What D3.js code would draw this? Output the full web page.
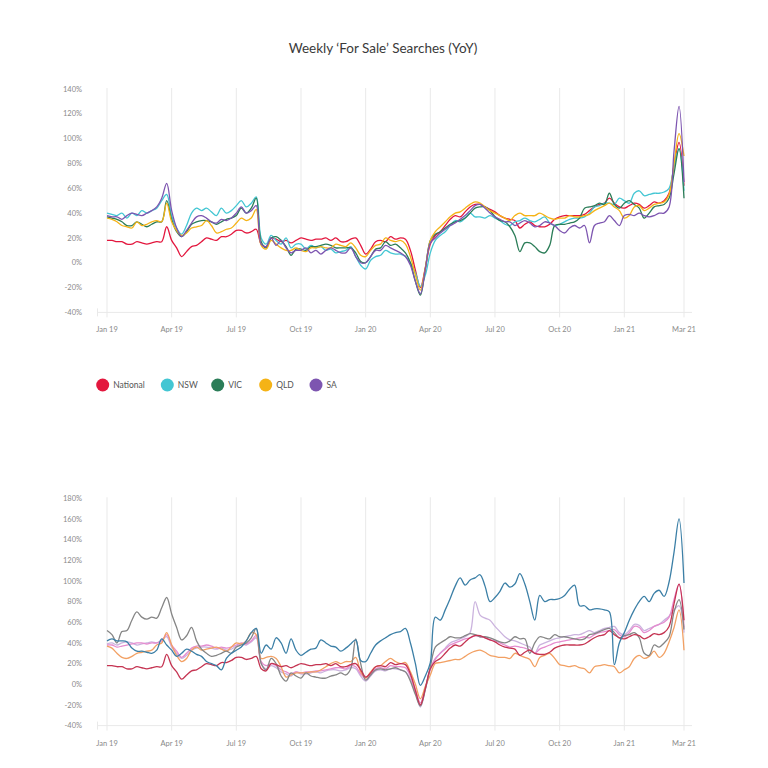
<!DOCTYPE html>
<html>
<head>
<meta charset="utf-8">
<script src="https://cdn.jsdelivr.net/npm/d3@7"></script>
<style>
  html, body { margin: 0; padding: 0; background: #fff; }
  svg { display: block; font-family: Lato, "Open Sans", sans-serif; }
</style>
</head>
<body>
<svg id="chart" width="768" height="768"></svg>
<script>
// ---------- DATA ----------
const title = "Weekly \u2018For Sale\u2019 Searches (YoY)";
const tickWeeks  = [0, 13, 26, 39, 52, 65, 78, 91, 104, 116];
const tickLabels = ["Jan 19","Apr 19","Jul 19","Oct 19","Jan 20","Apr 20","Jul 20","Oct 20","Jan 21","Mar 21"];
const topYTicks = [-40,-20,0,20,40,60,80,100,120,140];
const botYTicks = [-40,-20,0,20,40,60,80,100,120,140,160,180];

// weekly YoY % values, Jan 2019 .. Mar 2021 (117 weeks)
const national = [
 18,18,17,17,15,15,17,16,15,16,
 17,17,29,18,12,5,9,13,14,17,
 20,19,18,21,21,23,26,26,24,25,
 27,15,13,20,19,17,18,16,18,20,
 19,18,19,19,20,18,20,17,17,19,
 20,14,7,11,17,18,17,21,19,20,
 19,10,-6,-20,-4,15,22,25,30,35,
 38,37,41,45,47,47,45,43,41,38,
 36,35,34,28,31,33,30,29,29,31,
 35,37,38,38,38,38,39,42,45,47,
 48,52,48,45,44,46,48,47,44,46,
 49,48,50,56,78,97,62];
const nsw = [
 40,39,38,40,36,40,38,42,40,42,
 44,50,55,38,28,23,30,40,44,42,
 44,41,38,44,40,42,46,50,45,48,
 53,20,15,22,18,15,20,12,15,15,
 11,14,12,13,10,11,8,9,10,13,
 5,-2,-5,2,5,6,10,8,7,7,
 5,0,-8,-19,-10,8,18,22,25,30,
 34,33,36,40,37,37,36,38,36,34,
 31,30,33,34,36,34,33,35,37,32,
 30,31,33,35,36,36,37,40,45,46,
 48,48,47,52,50,48,56,58,54,55,
 56,56,57,60,78,92,58];
const vic = [
 37,36,35,33,30,30,33,31,29,31,
 33,33,50,35,25,21,25,31,33,34,
 34,33,31,33,35,36,38,44,40,44,
 52,17,12,20,21,18,13,6,11,11,
 10,13,13,14,15,14,12,12,12,12,
 8,1,0,5,11,12,17,14,15,12,
 8,0,-15,-26,-5,18,23,25,28,31,
 33,34,36,40,44,45,45,42,37,34,
 33,29,22,9,16,16,13,9,8,14,
 30,31,31,32,33,36,44,45,46,48,
 47,56,47,44,48,50,47,44,36,40,
 45,46,47,52,72,92,52];
const qld = [
 36,35,33,30,29,28,33,30,31,33,
 34,33,48,33,26,22,24,28,29,30,
 34,30,24,25,27,28,32,36,34,36,
 43,14,11,18,15,12,10,10,12,10,
 9,12,12,13,12,12,15,14,13,16,
 12,6,5,10,14,15,20,18,17,18,
 15,5,-10,-22,-4,18,25,29,33,37,
 40,41,44,47,49,48,45,42,40,38,
 36,34,38,40,38,38,38,40,38,36,
 35,36,36,38,37,37,38,39,42,44,
 46,48,45,42,36,38,45,46,42,44,
 47,48,49,55,80,104,86];
const sa = [
 38,37,37,35,38,40,39,38,40,42,
 45,52,64,42,28,21,26,32,37,38,
 36,33,32,35,34,36,40,45,40,42,
 46,15,13,20,14,18,12,8,10,10,
 12,8,10,7,10,12,10,8,8,12,
 5,0,0,5,10,10,14,12,10,8,
 5,-2,-15,-25,-5,16,20,24,27,30,
 32,35,38,42,46,47,44,40,37,35,
 33,33,30,32,34,32,29,30,33,32,
 30,26,24,28,30,28,30,16,30,32,
 33,38,34,30,38,39,38,40,38,37,
 38,40,40,45,90,126,65];

// second chart series
const seriesBlue = [
 42,44,42,42,41,35,32,32,31,30,
 33,44,38,33,27,30,34,32,29,27,
 22,20,18,14,25,30,33,36,42,50,
 54,30,38,34,45,40,30,44,33,28,
 31,34,35,43,40,37,36,32,35,39,
 43,23,22,30,38,42,45,48,50,51,
 54,40,20,-1,8,21,65,62,72,83,
 95,103,96,101,103,106,95,80,84,90,
 98,94,97,107,97,80,62,86,80,82,
 82,83,86,92,96,76,76,72,73,73,
 72,70,19,40,50,62,72,80,85,80,
 88,91,85,99,128,160,98];
const seriesGray = [
 52,48,40,51,52,62,70,65,63,65,
 64,74,84,68,55,43,47,55,42,34,
 30,27,28,30,32,30,36,38,40,45,
 54,20,14,25,20,8,3,11,8,6,
 11,8,7,6,6,8,9,11,9,15,
 44,20,4,9,14,15,14,15,16,14,
 12,3,-10,-21,-5,17,36,40,43,46,
 45,45,47,49,48,46,46,45,43,41,
 40,42,46,44,44,30,40,46,45,44,
 48,46,46,45,44,43,44,48,49,51,
 53,54,50,45,47,48,50,45,30,28,
 38,36,40,46,70,82,53];
const seriesOrange = [
 37,35,30,26,25,27,30,31,32,33,
 38,40,50,38,28,22,25,33,36,33,
 34,35,36,34,32,36,40,39,42,50,
 48,25,26,27,25,17,7,9,11,11,
 11,12,12,14,17,20,22,20,22,22,
 26,12,6,12,17,18,22,25,22,20,
 21,12,0,-14,-2,9,20,21,22,23,
 24,24,27,30,32,33,31,28,27,26,
 26,25,30,28,26,24,17,26,28,30,
 25,19,18,17,18,16,15,11,17,18,
 19,18,17,11,14,17,25,28,25,27,
 32,26,30,41,55,72,33];
const seriesPink = [
 38,38,36,37,38,39,40,40,39,40,
 40,42,48,38,32,26,30,35,37,37,
 38,37,35,36,35,36,38,40,39,42,
 47,22,18,20,18,14,12,10,12,11,
 12,12,13,13,14,15,16,16,15,18,
 17,10,6,10,15,16,15,18,17,17,
 16,8,-5,-18,-3,15,25,30,34,38,
 40,42,44,45,47,46,45,43,42,40,
 38,36,37,36,35,33,30,34,36,38,
 40,41,42,43,44,45,46,45,48,50,
 51,52,53,48,46,50,56,55,50,52,
 56,58,60,65,82,97,55];
const seriesLavender = [
 39,40,38,40,41,40,38,39,40,41,
 40,43,46,36,30,25,28,33,35,36,
 36,35,34,35,33,34,37,39,38,41,
 45,20,15,18,16,12,10,8,12,10,
 10,11,12,11,13,14,14,13,14,16,
 15,8,3,8,13,14,13,15,15,14,
 12,5,-8,-22,-5,14,24,30,35,40,
 42,44,46,50,80,67,64,62,56,51,
 46,43,42,40,38,36,30,38,40,42,
 44,45,46,47,48,48,50,52,50,52,
 54,55,56,50,48,52,58,57,52,54,
 56,58,62,66,72,76,50];

const topNames  = ["National","NSW","VIC","QLD","SA"];
const topColors = ["#e3173e","#43c6d3","#2b7d58","#f5b316","#7d55b0"];
const topValues = [national, nsw, vic, qld, sa];

const botColors = ["#cbb3de","#e58ccf","#f2a063","#858585","#c53452","#3b7fa6"];
const botValues = [seriesLavender, seriesPink, seriesOrange, seriesGray, national, seriesBlue];

// ---------- DRAW ----------
const svg = d3.select("#chart");
const nWeeks = national.length;
const x = d3.scaleLinear().domain([0, nWeeks - 1]).range([107, 684]);

function drawPanel(g, y, yTicks, series, colors, top, bottom) {
  // vertical gridlines
  g.selectAll(".vgrid").data(tickWeeks).join("line")
    .attr("x1", d => x(d)).attr("x2", d => x(d))
    .attr("y1", top - 1).attr("y2", bottom + 5)
    .attr("stroke", "#e9e9e9").attr("stroke-width", 1);
  // baseline
  g.append("line")
    .attr("x1", 97).attr("x2", 692)
    .attr("y1", bottom).attr("y2", bottom)
    .attr("stroke", "#e9e9e9").attr("stroke-width", 1);
  g.append("line")
    .attr("x1", 97.5).attr("x2", 97.5)
    .attr("y1", bottom - 4).attr("y2", bottom + 4)
    .attr("stroke", "#e9e9e9").attr("stroke-width", 1);
  // y labels
  g.selectAll(".ylab").data(yTicks).join("text")
    .attr("x", 82).attr("y", d => y(d)).attr("dy", "0.35em")
    .attr("text-anchor", "end").attr("font-size", 7.5).attr("fill", "#8a8a8a")
    .text(d => d + "%");
  // x labels
  g.selectAll(".xlab").data(tickWeeks).join("text")
    .attr("x", d => x(d)).attr("y", bottom + 20)
    .attr("text-anchor", "middle").attr("font-size", 7.5).attr("fill", "#8a8a8a")
    .text((d, i) => tickLabels[i]);
  // lines
  const line = d3.line()
    .x((d, i) => x(i)).y(d => y(d))
    .curve(d3.curveCatmullRom.alpha(0.5));
  g.selectAll(".series").data(series).join("path")
    .attr("fill", "none")
    .attr("stroke", (d, i) => colors[i])
    .attr("stroke-width", 1.3)
    .attr("stroke-linejoin", "round")
    .attr("d", d => line(d));
}

// title
svg.append("text").attr("x", 383).attr("y", 53)
  .attr("text-anchor", "middle").attr("font-size", 13.5).attr("fill", "#3a3a3a")
  .text(title);

// top chart
const yTop = d3.scaleLinear().domain([-40, 140]).range([312.4, 89]);
drawPanel(svg.append("g"), yTop, topYTicks, topValues, topColors, 89, 312.4);

// legend
const legX = [102.7, 167.3, 217.7, 265.7, 316];
const leg = svg.append("g").selectAll("g").data(topNames).join("g")
  .attr("transform", (d, i) => `translate(${legX[i]},385)`);
leg.append("circle").attr("r", 6.5).attr("fill", (d, i) => topColors[i]);
leg.append("text").attr("x", 10.5).attr("dy", "0.35em")
  .attr("font-size", 8.5).attr("fill", "#555").text(d => d);

// bottom chart
const yBot = d3.scaleLinear().domain([-40, 180]).range([725.6, 498.3]);
drawPanel(svg.append("g"), yBot, botYTicks, botValues, botColors, 498.3, 725.6);
</script>
</body>
</html>
